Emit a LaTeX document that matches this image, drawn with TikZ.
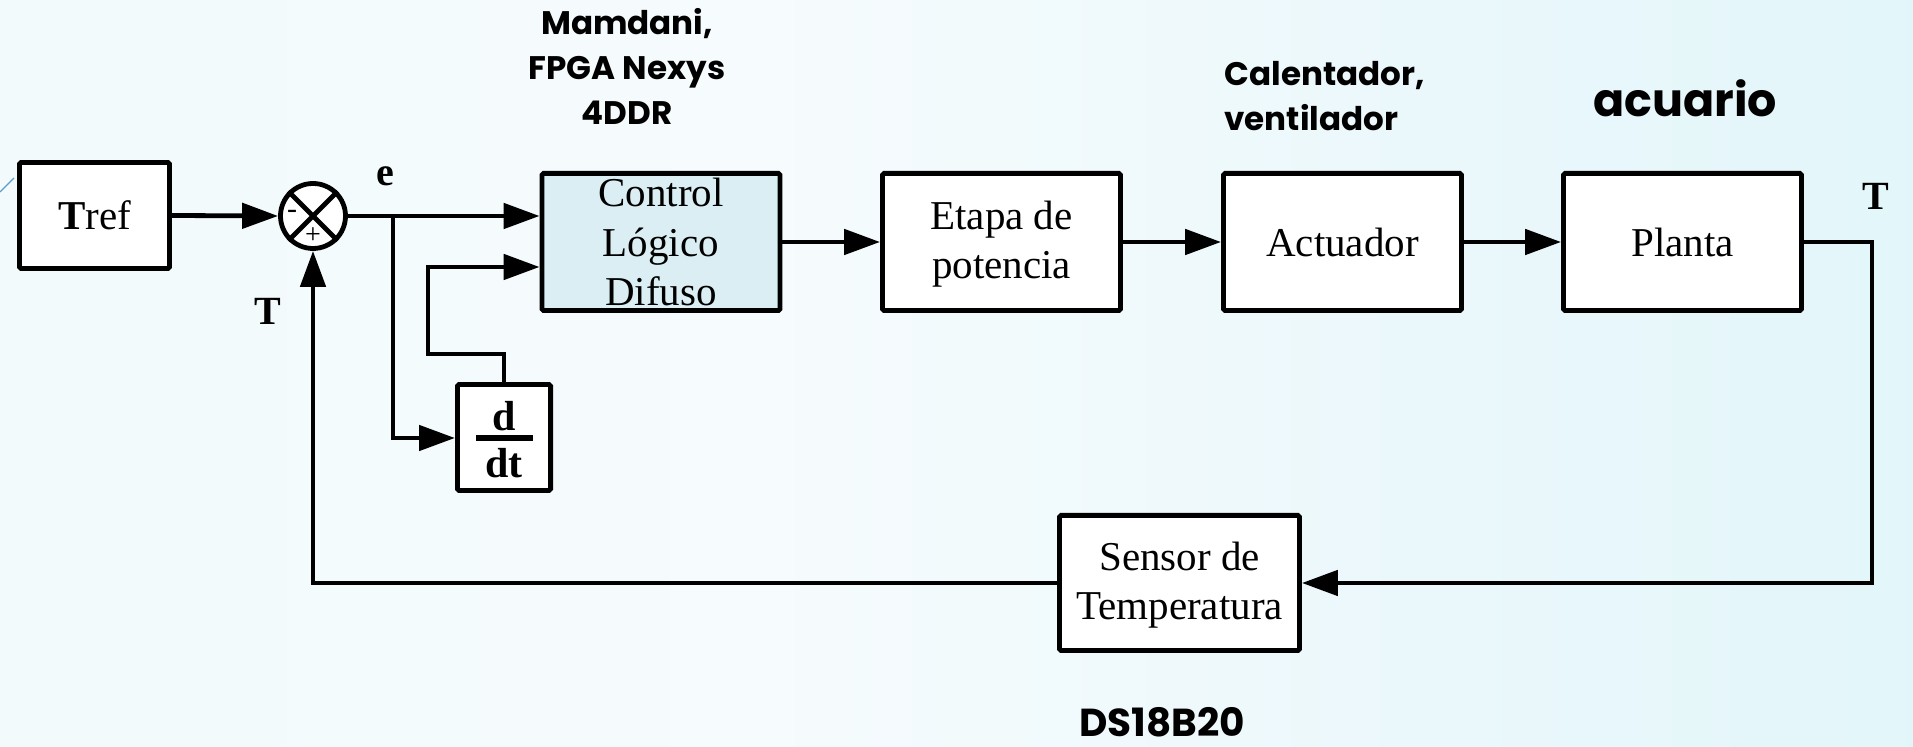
\documentclass[tikz,border=0pt]{standalone}
\usepackage{fontspec}
\setmainfont{Liberation Serif}
\newfontfamily\gothic{Poppins}
\usetikzlibrary{arrows.meta,calc}
\definecolor{fuzzy}{HTML}{DAEEF3}
\definecolor{bgA}{HTML}{E2F4FA}
\definecolor{bgB}{HTML}{F1FAFC}
\definecolor{bgC}{HTML}{F6FBFD}
\definecolor{bgD}{HTML}{D2F1F7}
\definecolor{deco}{HTML}{5A9FC8}
\pgfdeclarehorizontalshading{bgshade}{100bp}{color(0bp)=(bgA); color(20bp)=(bgB); color(45bp)=(bgC); color(100bp)=(bgD)}
\begin{document}
\begin{tikzpicture}[x=0.5pt,y=-0.5pt,
  blk/.style={draw, line width=2.4pt, fill=white, rounded corners=0.8pt, align=center, inner sep=0pt,
    font=\fontsize{20.5}{24.5}\selectfont},
  bigbox/.style={blk, minimum width=119pt, minimum height=68.6pt},
  conn/.style={line width=2.4pt},
  arr/.style={conn, -{Triangle[length=18pt,width=12.5pt]}},
  lbl/.style={font=\gothic\bfseries\fontsize{16.3}{22.5}\selectfont, align=center, inner sep=0pt},
  sig/.style={font=\bfseries\fontsize{20}{24}\selectfont, inner sep=0pt}
]
\shade[shading=bgshade] (0,0) rectangle (1913,747);
\useasboundingbox (0,0) rectangle (1913,747);
\draw[deco, line width=0.6pt] (0,192) -- (14,178);

% blocks
\node[blk, minimum width=75pt, minimum height=53pt] (tref) at (94.5,215.5) {\textbf{T}ref};
\node[draw, circle, line width=2.4pt, fill=white, minimum size=32.5pt, inner sep=0pt] (sum) at (313,216) {};
\draw[line width=2.4pt] (sum.north west) -- (sum.south east) (sum.north east) -- (sum.south west);
\node[font=\fontsize{15}{16}\selectfont, inner sep=0pt] (minus) at (292,214) {-};
\node[font=\fontsize{14}{16}\selectfont, inner sep=0pt] (plus) at (313,236) {+};

\node[bigbox, fill=fuzzy] (ctrl) at (661,242) {Control\\[0.3pt]Lógico\\[0.3pt]Difuso};
\node[bigbox] (etapa) at (1001.5,242) {\rule{0pt}{16pt}Etapa de\\potencia};
\node[bigbox] (act) at (1342.5,242) {Actuador};
\node[bigbox] (planta) at (1682.5,242) {Planta};
\node[blk, minimum width=120pt, minimum height=67.6pt] (sensor) at (1179.5,583) {\rule{0pt}{16pt}Sensor de\\Temperatura};
\node[blk, minimum width=46.6pt, minimum height=53pt] (dt) at (504,437.5) {};
\node[sig, font=\bfseries\fontsize{21}{24}\selectfont] (dnum) at (504,416) {d};
\node[sig, font=\bfseries\fontsize{21}{24}\selectfont] (dden) at (504,463) {dt};
\draw[line width=3pt] (476,438) -- (533,438);

% signal labels
\node[sig] (elbl) at (385,176) {e};
\node[sig] (tl) at (268,311) {T};
\node[sig] (tr) at (1876,196) {T};

% connectors
\coordinate (br) at (393,216);
\coordinate (brd) at (393,438);
\coordinate (d1) at (428,354);
\coordinate (d2) at (428,267);
\coordinate (o1) at (1872,242);
\draw[arr] (tref.east) -- (sum.west);
\draw[arr] (sum.east) -- (ctrl.west |- br);
\draw[arr] (br) -- (brd) -- (dt.west |- brd);
\draw[arr] (dt.north) |- (d1) -- (d2) -- (ctrl.west |- d2);
\draw[arr] (ctrl.east) -- (etapa.west);
\draw[arr] (etapa.east) -- (act.west);
\draw[arr] (act.east) -- (planta.west);
\draw[arr] (planta.east) -- (o1) |- (sensor.east);
\draw[arr] (sensor.west) -| (sum.south);

% annotations
\node[lbl] (mam) at (627,66) {Mamdani,\\FPGA Nexys\\4DDR};
\node[lbl, align=left, anchor=west] (cal) at (1224,96) {Calentador,\\ventilador};
\node[lbl, font=\gothic\bfseries\fontsize{23}{26}\selectfont] (acu) at (1685,98) {acuario};
\node[lbl, font=\gothic\bfseries\fontsize{19.5}{24}\selectfont] (ds) at (1162,722) {DS18B20};
\end{tikzpicture}
\end{document}
